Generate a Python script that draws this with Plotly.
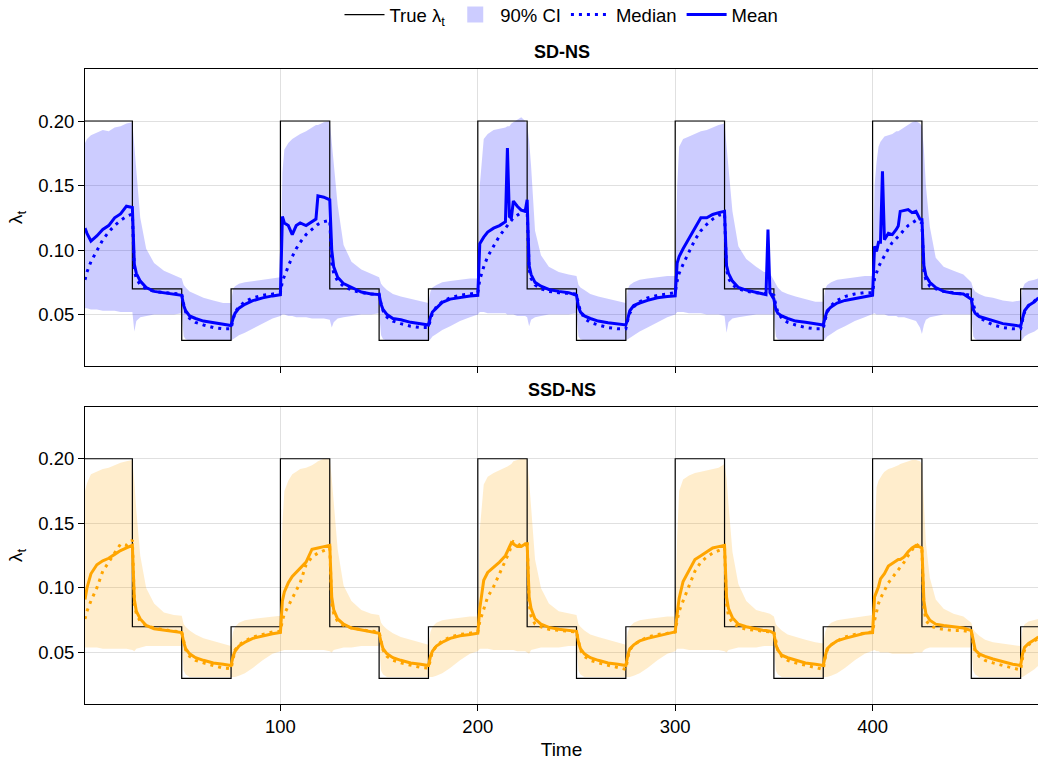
import plotly.graph_objects as go

# ---------------- data ----------------
time = [
    1, 2, 4, 7, 10, 13, 16, 19, 22, 25, 26, 27, 29, 32, 36, 41, 46, 50,
    51, 52, 54, 57, 61, 66, 71, 75, 76, 77, 79, 82, 86, 91, 96, 100,
    101, 102, 104, 106, 108, 110, 113, 116, 118, 119, 122, 125, 126, 127, 129, 132, 136, 141, 146, 150,
    151, 152, 154, 157, 161, 166, 171, 175, 176, 177, 179, 182, 186, 191, 196, 200,
    201, 203, 205, 208, 211, 214, 215, 216, 217, 218, 220, 222, 224, 225, 226, 227, 229, 232, 236, 241, 246, 250,
    251, 252, 254, 257, 261, 266, 271, 275, 276, 277, 279, 282, 286, 291, 296, 300,
    301, 302, 304, 307, 310, 313, 316, 319, 322, 325, 326, 327, 329, 332, 336, 341, 345, 346, 347, 348, 350,
    351, 352, 354, 357, 361, 366, 371, 375, 376, 377, 379, 382, 386, 391, 396, 400,
    401, 402, 403, 404, 405, 406, 408, 410, 412, 413, 414, 416, 418, 420, 422, 424, 425,
    426, 427, 429, 432, 436, 441, 446, 450, 451, 452, 454, 457, 461, 466, 471, 475,
    476, 477, 479, 482, 484,
]

true_t = [1, 25, 50, 75, 100, 125, 150, 175, 200, 225, 250, 275, 300, 325, 350, 375, 400, 425, 450, 475, 484]
true_v = [0.20, 0.07, 0.03, 0.07, 0.20, 0.07, 0.03, 0.07, 0.20, 0.07, 0.03, 0.07,
          0.20, 0.07, 0.03, 0.07, 0.20, 0.07, 0.03, 0.07, 0.07]

# ----- SD-NS -----
sd_mean = [
    0.117, 0.113, 0.107, 0.111, 0.116, 0.119, 0.125, 0.128, 0.134, 0.133,
    0.089, 0.082, 0.076, 0.071, 0.068, 0.067, 0.066, 0.065,
    0.057, 0.053, 0.049, 0.047, 0.045, 0.0437, 0.0425, 0.0415,
    0.047, 0.051, 0.055, 0.058, 0.0608, 0.063, 0.0645, 0.0655,
    0.126, 0.121, 0.119, 0.112, 0.119, 0.121, 0.119, 0.122, 0.124, 0.142, 0.141, 0.139,
    0.100, 0.087, 0.079, 0.074, 0.071, 0.0675, 0.066, 0.0655,
    0.058, 0.054, 0.050, 0.047, 0.046, 0.044, 0.043, 0.042,
    0.048, 0.052, 0.055, 0.0595, 0.062, 0.0635, 0.0645, 0.065,
    0.105, 0.110, 0.114, 0.117, 0.119, 0.122, 0.179, 0.126, 0.125, 0.138, 0.134, 0.131, 0.130, 0.139,
    0.088, 0.081, 0.075, 0.072, 0.0695, 0.068, 0.067, 0.065,
    0.056, 0.052, 0.049, 0.047, 0.045, 0.0437, 0.043, 0.042,
    0.047, 0.053, 0.057, 0.059, 0.061, 0.063, 0.064, 0.0645,
    0.090, 0.095, 0.101, 0.109, 0.117, 0.125, 0.125, 0.1276, 0.129, 0.130,
    0.088, 0.082, 0.076, 0.071, 0.069, 0.067, 0.066, 0.0655, 0.116, 0.067, 0.062,
    0.054, 0.051, 0.049, 0.047, 0.045, 0.044, 0.043, 0.042,
    0.048, 0.053, 0.056, 0.059, 0.061, 0.0625, 0.064, 0.065,
    0.103, 0.099, 0.106, 0.106, 0.161, 0.108, 0.113, 0.112, 0.116, 0.1186, 0.130, 0.131, 0.1314, 0.129, 0.130, 0.124, 0.1237,
    0.088, 0.080, 0.075, 0.071, 0.068, 0.0665, 0.066, 0.062,
    0.054, 0.051, 0.0485, 0.047, 0.045, 0.043, 0.042, 0.041,
    0.047, 0.053, 0.057, 0.060, 0.063,
]
sd_median = [
    0.077, 0.083, 0.091, 0.100, 0.108, 0.114, 0.119, 0.123, 0.126, 0.128,
    0.084, 0.078, 0.073, 0.070, 0.068, 0.067, 0.0665, 0.066,
    0.058, 0.052, 0.047, 0.044, 0.042, 0.040, 0.039, 0.039,
    0.046, 0.052, 0.056, 0.060, 0.063, 0.065, 0.066, 0.067,
    0.076, 0.080, 0.087, 0.095, 0.101, 0.106, 0.112, 0.116, 0.119, 0.120, 0.122, 0.123,
    0.090, 0.082, 0.076, 0.072, 0.069, 0.067, 0.066, 0.066,
    0.058, 0.053, 0.048, 0.045, 0.043, 0.041, 0.040, 0.040,
    0.046, 0.051, 0.056, 0.060, 0.063, 0.065, 0.066, 0.067,
    0.077, 0.087, 0.095, 0.103, 0.111, 0.117, 0.119, 0.121, 0.123, 0.125, 0.127, 0.129, 0.131, 0.131,
    0.085, 0.078, 0.073, 0.070, 0.068, 0.067, 0.0665, 0.066,
    0.058, 0.053, 0.047, 0.044, 0.042, 0.040, 0.039, 0.039,
    0.046, 0.051, 0.056, 0.060, 0.063, 0.065, 0.066, 0.067,
    0.076, 0.082, 0.089, 0.099, 0.108, 0.115, 0.120, 0.124, 0.127, 0.128,
    0.085, 0.078, 0.073, 0.070, 0.068, 0.067, 0.066, 0.066, 0.066, 0.066, 0.065,
    0.057, 0.052, 0.047, 0.044, 0.042, 0.040, 0.039, 0.039,
    0.046, 0.052, 0.057, 0.061, 0.064, 0.066, 0.067, 0.067,
    0.078, 0.083, 0.087, 0.090, 0.093, 0.096, 0.101, 0.106, 0.109, 0.111, 0.112, 0.116, 0.119, 0.121, 0.123, 0.122, 0.121,
    0.083, 0.077, 0.072, 0.070, 0.068, 0.067, 0.066, 0.065,
    0.058, 0.053, 0.048, 0.045, 0.042, 0.040, 0.039, 0.039,
    0.046, 0.052, 0.057, 0.061, 0.063,
]
sd_upper = [
    0.183, 0.186, 0.189, 0.191, 0.193, 0.192, 0.195, 0.196, 0.198, 0.199,
    0.180, 0.162, 0.125, 0.101, 0.090, 0.084, 0.081, 0.078,
    0.073, 0.071, 0.068, 0.066, 0.063, 0.061, 0.059, 0.059,
    0.070, 0.072, 0.074, 0.075, 0.076, 0.077, 0.078, 0.079,
    0.160, 0.178, 0.183, 0.186, 0.188, 0.190, 0.192, 0.195, 0.197, 0.197, 0.199, 0.200,
    0.185, 0.165, 0.135, 0.104, 0.091, 0.085, 0.082, 0.079,
    0.074, 0.072, 0.069, 0.066, 0.064, 0.062, 0.060, 0.059,
    0.068, 0.071, 0.073, 0.075, 0.076, 0.077, 0.078, 0.078,
    0.150, 0.186, 0.190, 0.193, 0.194, 0.195, 0.196, 0.196, 0.198, 0.199, 0.201, 0.203, 0.200, 0.197,
    0.185, 0.165, 0.115, 0.096, 0.087, 0.083, 0.081, 0.080,
    0.073, 0.071, 0.069, 0.066, 0.064, 0.062, 0.060, 0.059,
    0.070, 0.073, 0.075, 0.077, 0.078, 0.079, 0.080, 0.080,
    0.150, 0.180, 0.186, 0.188, 0.190, 0.192, 0.193, 0.195, 0.197, 0.198,
    0.180, 0.165, 0.130, 0.103, 0.093, 0.087, 0.083, 0.083, 0.082, 0.082, 0.076,
    0.073, 0.071, 0.068, 0.066, 0.064, 0.062, 0.060, 0.060,
    0.070, 0.073, 0.075, 0.077, 0.078, 0.079, 0.080, 0.080,
    0.150, 0.168, 0.180, 0.184, 0.186, 0.188, 0.189, 0.190, 0.192, 0.192, 0.193, 0.195, 0.197, 0.199, 0.200, 0.198, 0.196,
    0.178, 0.150, 0.118, 0.094, 0.087, 0.084, 0.081, 0.075,
    0.070, 0.068, 0.066, 0.064, 0.063, 0.061, 0.060, 0.061,
    0.070, 0.074, 0.076, 0.077, 0.078,
]
sd_lower = [
    0.055, 0.055, 0.054, 0.054, 0.053, 0.053, 0.053, 0.052, 0.052, 0.052,
    0.037, 0.045, 0.048, 0.049, 0.050, 0.050, 0.050, 0.051,
    0.033, 0.031, 0.030, 0.030, 0.030, 0.030, 0.030, 0.030,
    0.031, 0.032, 0.034, 0.036, 0.039, 0.043, 0.047, 0.049,
    0.050, 0.050, 0.049, 0.049, 0.048, 0.048, 0.048, 0.047, 0.047, 0.047, 0.047, 0.046,
    0.040, 0.044, 0.047, 0.048, 0.049, 0.050, 0.050, 0.051,
    0.034, 0.031, 0.030, 0.030, 0.030, 0.030, 0.030, 0.030,
    0.031, 0.033, 0.035, 0.038, 0.041, 0.045, 0.048, 0.050,
    0.052, 0.052, 0.051, 0.051, 0.051, 0.051, 0.050, 0.050, 0.050, 0.050, 0.049, 0.049, 0.049, 0.048,
    0.041, 0.046, 0.048, 0.049, 0.050, 0.050, 0.050, 0.051,
    0.033, 0.031, 0.030, 0.030, 0.030, 0.030, 0.030, 0.030,
    0.031, 0.032, 0.034, 0.037, 0.040, 0.044, 0.048, 0.050,
    0.052, 0.052, 0.052, 0.051, 0.051, 0.051, 0.050, 0.050, 0.050, 0.049,
    0.036, 0.044, 0.047, 0.048, 0.049, 0.050, 0.050, 0.050, 0.050, 0.050, 0.050,
    0.033, 0.031, 0.030, 0.030, 0.030, 0.030, 0.030, 0.030,
    0.031, 0.033, 0.035, 0.038, 0.041, 0.045, 0.048, 0.050,
    0.051, 0.050, 0.050, 0.050, 0.050, 0.050, 0.049, 0.049, 0.049, 0.048, 0.048, 0.048, 0.047, 0.046, 0.045, 0.040, 0.035,
    0.042, 0.046, 0.048, 0.049, 0.050, 0.050, 0.050, 0.050,
    0.033, 0.031, 0.030, 0.030, 0.030, 0.030, 0.030, 0.030,
    0.031, 0.033, 0.035, 0.037, 0.039,
]

# ----- SSD-NS -----
ssd_mean = [
    0.091, 0.100, 0.111, 0.118, 0.121, 0.123, 0.126, 0.129, 0.131, 0.133,
    0.091, 0.082, 0.076, 0.071, 0.0685, 0.0673, 0.066, 0.0655,
    0.058, 0.053, 0.049, 0.046, 0.044, 0.042, 0.041, 0.040,
    0.047, 0.051, 0.055, 0.058, 0.061, 0.063, 0.0645, 0.0655,
    0.090, 0.097, 0.104, 0.109, 0.112, 0.115, 0.120, 0.130, 0.131, 0.131, 0.132, 0.133,
    0.093, 0.083, 0.076, 0.072, 0.069, 0.0675, 0.066, 0.065,
    0.058, 0.053, 0.049, 0.046, 0.044, 0.042, 0.041, 0.040,
    0.047, 0.051, 0.055, 0.058, 0.061, 0.063, 0.064, 0.065,
    0.084, 0.106, 0.112, 0.116, 0.120, 0.125, 0.128, 0.132, 0.135, 0.134, 0.132, 0.132, 0.134, 0.134,
    0.093, 0.084, 0.076, 0.072, 0.0695, 0.068, 0.067, 0.0665,
    0.058, 0.053, 0.049, 0.046, 0.044, 0.042, 0.041, 0.040,
    0.048, 0.053, 0.056, 0.059, 0.061, 0.063, 0.065, 0.066,
    0.080, 0.092, 0.105, 0.113, 0.122, 0.125, 0.128, 0.131, 0.132, 0.133,
    0.093, 0.084, 0.077, 0.072, 0.070, 0.068, 0.067, 0.067, 0.067, 0.0665, 0.065,
    0.056, 0.052, 0.048, 0.046, 0.044, 0.042, 0.041, 0.040,
    0.047, 0.053, 0.056, 0.059, 0.061, 0.063, 0.065, 0.0655,
    0.093, 0.097, 0.101, 0.107, 0.109, 0.111, 0.117, 0.119, 0.121, 0.122, 0.122, 0.124, 0.128, 0.131, 0.133, 0.132, 0.131,
    0.090, 0.080, 0.075, 0.072, 0.071, 0.070, 0.069, 0.067,
    0.058, 0.052, 0.049, 0.047, 0.045, 0.043, 0.041, 0.040,
    0.049, 0.054, 0.057, 0.060, 0.062,
]
ssd_median = [
    0.076, 0.082, 0.090, 0.100, 0.113, 0.120, 0.126, 0.134, 0.133, 0.137,
    0.088, 0.080, 0.074, 0.071, 0.069, 0.0675, 0.0665, 0.066,
    0.058, 0.052, 0.047, 0.044, 0.042, 0.040, 0.038, 0.0375,
    0.046, 0.052, 0.056, 0.059, 0.062, 0.064, 0.066, 0.0665,
    0.075, 0.080, 0.086, 0.093, 0.099, 0.104, 0.118, 0.124, 0.126, 0.127, 0.129, 0.131,
    0.088, 0.080, 0.074, 0.071, 0.069, 0.0675, 0.0665, 0.066,
    0.058, 0.052, 0.047, 0.044, 0.042, 0.040, 0.0385, 0.038,
    0.046, 0.051, 0.055, 0.059, 0.062, 0.064, 0.065, 0.066,
    0.074, 0.083, 0.093, 0.101, 0.111, 0.120, 0.124, 0.128, 0.133, 0.136, 0.135, 0.132, 0.133, 0.137,
    0.088, 0.078, 0.072, 0.070, 0.068, 0.067, 0.0665, 0.066,
    0.058, 0.052, 0.047, 0.044, 0.042, 0.040, 0.038, 0.037,
    0.046, 0.052, 0.056, 0.059, 0.062, 0.064, 0.065, 0.066,
    0.075, 0.082, 0.090, 0.102, 0.113, 0.120, 0.124, 0.127, 0.129, 0.131,
    0.088, 0.078, 0.073, 0.070, 0.068, 0.067, 0.0665, 0.0665, 0.066, 0.066, 0.066,
    0.058, 0.052, 0.047, 0.044, 0.042, 0.040, 0.038, 0.037,
    0.046, 0.052, 0.056, 0.059, 0.062, 0.064, 0.065, 0.066,
    0.075, 0.082, 0.088, 0.092, 0.095, 0.098, 0.104, 0.108, 0.112, 0.114, 0.116, 0.120, 0.125, 0.130, 0.134, 0.132, 0.130,
    0.085, 0.075, 0.071, 0.069, 0.068, 0.067, 0.067, 0.066,
    0.057, 0.051, 0.047, 0.044, 0.042, 0.040, 0.038, 0.0365,
    0.046, 0.052, 0.056, 0.059, 0.061,
]
ssd_upper = [
    0.175, 0.181, 0.188, 0.190, 0.192, 0.193, 0.195, 0.197, 0.198, 0.199,
    0.182, 0.160, 0.125, 0.100, 0.088, 0.081, 0.079, 0.0785,
    0.072, 0.070, 0.067, 0.064, 0.061, 0.059, 0.057, 0.055,
    0.066, 0.070, 0.073, 0.075, 0.076, 0.077, 0.078, 0.0785,
    0.150, 0.175, 0.183, 0.188, 0.190, 0.192, 0.193, 0.195, 0.197, 0.198, 0.200, 0.200,
    0.185, 0.165, 0.130, 0.102, 0.090, 0.083, 0.080, 0.079,
    0.073, 0.071, 0.068, 0.065, 0.062, 0.060, 0.058, 0.056,
    0.066, 0.070, 0.073, 0.075, 0.076, 0.077, 0.078, 0.078,
    0.145, 0.180, 0.186, 0.189, 0.191, 0.193, 0.194, 0.195, 0.196, 0.198, 0.199, 0.200, 0.200, 0.200,
    0.183, 0.160, 0.122, 0.100, 0.088, 0.082, 0.080, 0.079,
    0.072, 0.070, 0.067, 0.064, 0.062, 0.060, 0.058, 0.056,
    0.066, 0.070, 0.073, 0.075, 0.076, 0.077, 0.078, 0.078,
    0.140, 0.175, 0.184, 0.187, 0.189, 0.190, 0.191, 0.192, 0.193, 0.196,
    0.185, 0.165, 0.128, 0.103, 0.090, 0.083, 0.081, 0.081, 0.080, 0.080, 0.078,
    0.072, 0.070, 0.067, 0.064, 0.062, 0.060, 0.058, 0.057,
    0.066, 0.070, 0.073, 0.075, 0.076, 0.077, 0.078, 0.079,
    0.140, 0.178, 0.183, 0.186, 0.188, 0.190, 0.192, 0.193, 0.194, 0.195, 0.196, 0.197, 0.198, 0.199, 0.199, 0.198, 0.196,
    0.165, 0.135, 0.108, 0.091, 0.084, 0.080, 0.078, 0.073,
    0.068, 0.066, 0.063, 0.060, 0.058, 0.057, 0.056, 0.055,
    0.068, 0.072, 0.074, 0.075, 0.076,
]
ssd_lower = [
    0.054, 0.054, 0.054, 0.054, 0.053, 0.053, 0.053, 0.053, 0.053, 0.052,
    0.051, 0.053, 0.054, 0.055, 0.055, 0.055, 0.055, 0.055,
    0.036, 0.033, 0.031, 0.031, 0.031, 0.031, 0.031, 0.031,
    0.031, 0.031, 0.032, 0.034, 0.038, 0.044, 0.049, 0.051,
    0.052, 0.052, 0.052, 0.052, 0.052, 0.052, 0.052, 0.052, 0.052, 0.052, 0.052, 0.051,
    0.050, 0.052, 0.053, 0.054, 0.054, 0.055, 0.055, 0.055,
    0.036, 0.033, 0.031, 0.031, 0.031, 0.031, 0.031, 0.031,
    0.031, 0.031, 0.032, 0.034, 0.038, 0.044, 0.049, 0.051,
    0.053, 0.053, 0.053, 0.052, 0.052, 0.052, 0.052, 0.052, 0.052, 0.052, 0.051, 0.051, 0.051, 0.050,
    0.049, 0.052, 0.053, 0.054, 0.054, 0.054, 0.055, 0.055,
    0.036, 0.033, 0.031, 0.031, 0.031, 0.031, 0.031, 0.031,
    0.031, 0.031, 0.032, 0.034, 0.038, 0.044, 0.049, 0.051,
    0.053, 0.053, 0.053, 0.052, 0.052, 0.052, 0.052, 0.052, 0.052, 0.051,
    0.050, 0.052, 0.053, 0.054, 0.054, 0.054, 0.055, 0.055, 0.055, 0.055, 0.055,
    0.036, 0.033, 0.031, 0.031, 0.031, 0.031, 0.031, 0.031,
    0.031, 0.031, 0.032, 0.034, 0.038, 0.044, 0.049, 0.051,
    0.052, 0.051, 0.051, 0.050, 0.050, 0.050, 0.050, 0.049, 0.049, 0.049, 0.049, 0.049, 0.049, 0.049, 0.050, 0.050, 0.050,
    0.052, 0.053, 0.054, 0.054, 0.054, 0.054, 0.054, 0.054,
    0.036, 0.033, 0.031, 0.031, 0.031, 0.031, 0.031, 0.031,
    0.031, 0.032, 0.034, 0.037, 0.040,
]

for _s in (sd_mean, sd_median, sd_upper, sd_lower, ssd_mean, ssd_median, ssd_upper, ssd_lower):
    assert len(_s) == len(time), (len(_s), len(time))

x_ticks = [100, 200, 300, 400]
y_ticks = [0.05, 0.10, 0.15, 0.20]
y_ticktext = ["0.05", "0.10", "0.15", "0.20"]

# ---------------- figure ----------------
FONT = "Liberation Sans, Arial, Helvetica, sans-serif"
TICK = 18.5
fig = go.Figure()

panels = [
    dict(xa="x", ya="y", mean=sd_mean, med=sd_median, up=sd_upper, lo=sd_lower,
         col="#0000FF", band="rgba(0,0,255,0.2)", legend=True),
    dict(xa="x2", ya="y2", mean=ssd_mean, med=ssd_median, up=ssd_upper, lo=ssd_lower,
         col="#FFA500", band="rgba(255,165,0,0.2)", legend=False),
]

for p in panels:
    fig.add_trace(go.Scatter(x=time, y=p["up"], xaxis=p["xa"], yaxis=p["ya"], mode="lines",
                             line=dict(width=0, color=p["band"]), showlegend=False, hoverinfo="skip"))
    fig.add_trace(go.Scatter(x=time, y=p["lo"], xaxis=p["xa"], yaxis=p["ya"], mode="lines",
                             line=dict(width=0, color=p["band"]), fill="tonexty", fillcolor=p["band"],
                             name="90% CI", showlegend=False))
    fig.add_trace(go.Scatter(x=true_t, y=true_v, xaxis=p["xa"], yaxis=p["ya"], mode="lines",
                             line=dict(color="black", width=1.2, shape="hv"),
                             name="True λ<sub>t</sub>", showlegend=p["legend"], legendrank=1))
    if p["legend"]:
        # legend-only patch for the credible band
        fig.add_trace(go.Scatter(x=[None], y=[None], xaxis=p["xa"], yaxis=p["ya"], mode="markers",
                                 marker=dict(symbol="square", size=24, color=p["band"],
                                             line=dict(width=0)),
                                 name="90% CI", showlegend=True, legendrank=2))
    fig.add_trace(go.Scatter(x=time, y=p["med"], xaxis=p["xa"], yaxis=p["ya"], mode="lines",
                             line=dict(color=p["col"], width=3, dash="3px,5px"),
                             name="Median", showlegend=p["legend"], legendrank=3))
    fig.add_trace(go.Scatter(x=time, y=p["mean"], xaxis=p["xa"], yaxis=p["ya"], mode="lines",
                             line=dict(color=p["col"], width=3),
                             name="Mean", showlegend=p["legend"], legendrank=4))

grid = "rgba(0,0,0,0.12)"
xcommon = dict(range=[1, 483.8], tickvals=x_ticks, ticks="outside", ticklen=6, tickcolor="black",
               showline=True, mirror=True, linecolor="black", linewidth=1,
               showgrid=True, gridcolor=grid, gridwidth=1, zeroline=False,
               tickfont=dict(size=TICK, family=FONT, color="black"))
ycommon = dict(range=[0.0102, 0.2403], tickvals=y_ticks, ticktext=y_ticktext, ticks="outside",
               ticklen=6, tickcolor="black", showline=True, mirror=False, linecolor="black",
               linewidth=1, showgrid=True, gridcolor=grid, gridwidth=1, zeroline=False,
               tickfont=dict(size=TICK, family=FONT, color="black"),
               title=dict(text="λ<sub>t</sub>", font=dict(size=19, family=FONT, color="black"), standoff=10))

fig.update_layout(
    width=1038, height=765,
    margin=dict(l=85, r=0, t=69, b=61, autoexpand=False),
    plot_bgcolor="white", paper_bgcolor="white",
    font=dict(family=FONT, size=TICK, color="black"),
    xaxis=dict(domain=[0, 1], anchor="y", showticklabels=False, **xcommon),
    yaxis=dict(domain=[0.5323, 1], anchor="x", **ycommon),
    xaxis2=dict(domain=[0, 1], anchor="y2", showticklabels=True,
                title=dict(text="Time", font=dict(size=19, family=FONT, color="black"), standoff=6),
                **xcommon),
    yaxis2=dict(domain=[0, 0.4682], anchor="x2", **ycommon),
    legend=dict(orientation="h", x=0.5, xanchor="center", y=1.085, yanchor="middle",
                font=dict(size=TICK, family=FONT, color="black"), bgcolor="rgba(0,0,0,0)",
                itemwidth=40, itemsizing="trace", traceorder="normal"),
    annotations=[
        dict(text="<b>SD-NS</b>", x=0.5, y=1.0, xref="paper", yref="paper", xanchor="center",
             yanchor="bottom", yshift=5, showarrow=False, font=dict(size=18, family=FONT, color="black")),
        dict(text="<b>SSD-NS</b>", x=0.5, y=0.4682, xref="paper", yref="paper", xanchor="center",
             yanchor="bottom", yshift=5, showarrow=False, font=dict(size=18, family=FONT, color="black")),
    ],
)

fig.write_html("out.html")
